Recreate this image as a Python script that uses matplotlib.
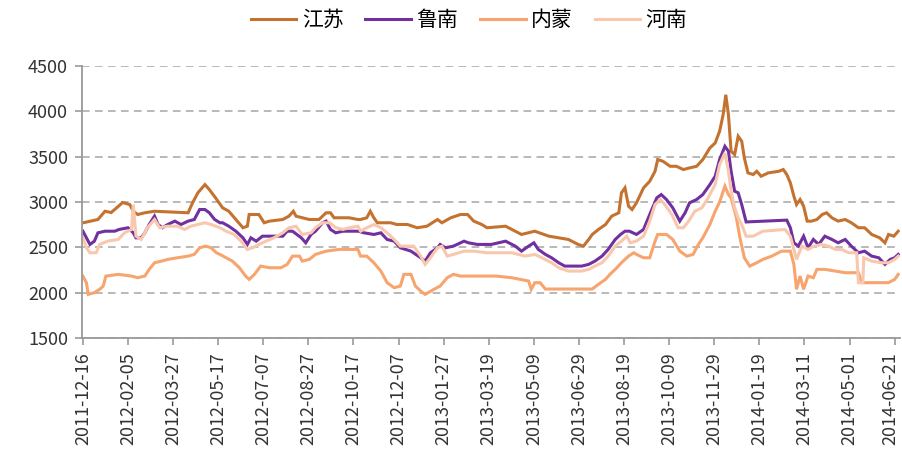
import matplotlib
matplotlib.use("Agg")
import matplotlib.pyplot as plt
import matplotlib.dates as mdates
import matplotlib.transforms as mtransforms
import pandas as pd

plt.rcParams['font.family'] = ['Noto Sans CJK SC', 'DejaVu Sans']

start_date = "2011-12-16"
series_names = ["江苏", "鲁南", "内蒙", "河南"]
series_colors = ["#C4722F", "#7030A0", "#F7A46E", "#F9C7AE"]

# day offsets from start_date and price values
js_days = [0, 17, 25, 32, 45, 53, 57, 62, 70, 81, 119, 124, 130, 138, 143, 150, 158, 165, 173, 181,
           186, 188, 199, 205, 211, 226, 233, 238, 241, 256, 267, 275, 280, 284, 301, 311, 314, 321,
           325, 329, 333, 348, 355, 367, 378, 389, 401, 406, 416, 427, 435, 442, 451, 457, 478, 496,
           511, 527, 538, 549, 560, 566, 572, 576, 583, 591, 598, 606, 609, 613, 617, 621, 626, 634,
           641, 647, 650, 656, 664, 671, 679, 686, 694, 701, 709, 715, 720, 724, 727, 730, 733, 737,
           741, 745, 748, 752, 758, 762, 767, 775, 787, 792, 796, 800, 804, 807, 811, 815, 819, 824,
           830, 836, 841, 847, 854, 862, 869, 877, 884, 892, 901, 907, 911, 917, 922]
js_vals = [2770, 2807, 2898, 2884, 2994, 2972, 2898, 2862, 2881, 2898, 2881, 2991, 3101, 3192, 3137,
           3046, 2936, 2898, 2807, 2716, 2733, 2862, 2862, 2771, 2789, 2807, 2844, 2898, 2844, 2807,
           2807, 2881, 2881, 2826, 2826, 2807, 2807, 2826, 2898, 2826, 2771, 2771, 2752, 2752, 2716,
           2733, 2807, 2771, 2826, 2862, 2862, 2789, 2752, 2716, 2733, 2642, 2678, 2623, 2605, 2587,
           2532, 2513, 2587, 2642, 2697, 2752, 2844, 2881, 3101, 3156, 2954, 2917, 2991, 3156, 3229,
           3339, 3468, 3449, 3394, 3394, 3358, 3376, 3394, 3468, 3596, 3651, 3780, 3963, 4183, 3963,
           3560, 3523, 3725, 3670, 3486, 3321, 3303, 3339, 3284, 3321, 3339, 3358, 3303, 3211, 3064,
           2972, 3027, 2954, 2789, 2789, 2807, 2862, 2881, 2826, 2789, 2807, 2771, 2716, 2716, 2642,
           2605, 2550, 2642, 2623, 2678]

ln_days = [0, 4, 8, 13, 17, 25, 36, 41, 51, 57, 60, 66, 70, 75, 81, 85, 90, 96, 104, 111, 119, 126,
           132, 138, 143, 149, 155, 158, 165, 173, 181, 186, 190, 196, 203, 226, 231, 237, 247, 252,
           258, 263, 271, 275, 280, 286, 294, 311, 318, 329, 337, 344, 352, 359, 371, 382, 387, 393,
           401, 404, 410, 419, 431, 436, 446, 462, 478, 489, 496, 504, 510, 515, 523, 530, 538, 545,
           564, 572, 579, 587, 594, 602, 608, 613, 618, 626, 634, 641, 649, 654, 660, 667, 675, 681,
           686, 694, 701, 709, 715, 720, 726, 730, 733, 737, 741, 745, 750, 796, 800, 804, 809, 815,
           820, 826, 832, 839, 847, 854, 862, 869, 877, 884, 892, 900, 907, 913, 918, 922]
ln_vals = [2678, 2605, 2532, 2568, 2660, 2678, 2678, 2697, 2716, 2660, 2605, 2605, 2660, 2752, 2844,
           2752, 2716, 2752, 2789, 2752, 2789, 2807, 2917, 2917, 2881, 2807, 2771, 2771, 2733, 2678,
           2605, 2532, 2605, 2568, 2623, 2623, 2678, 2678, 2605, 2550, 2642, 2678, 2771, 2789, 2697,
           2660, 2678, 2678, 2660, 2642, 2660, 2587, 2568, 2495, 2458, 2385, 2348, 2440, 2495, 2532,
           2495, 2513, 2568, 2550, 2532, 2532, 2568, 2513, 2458, 2513, 2550, 2477, 2422, 2385, 2330,
           2293, 2293, 2312, 2348, 2403, 2477, 2587, 2642, 2678, 2678, 2642, 2697, 2862, 3046, 3082,
           3027, 2936, 2789, 2881, 2991, 3027, 3082, 3192, 3284, 3468, 3614, 3560, 3339, 3119, 3101,
           2972, 2780, 2800, 2716, 2550, 2513, 2623, 2495, 2587, 2532, 2623, 2587, 2550, 2587, 2513,
           2440, 2458, 2403, 2385, 2312, 2367, 2385, 2422]

nm_days = [0, 4, 6, 13, 19, 23, 26, 40, 55, 62, 70, 75, 81, 89, 96, 107, 119, 126, 132, 139, 145, 151,
           155, 162, 169, 177, 184, 188, 194, 201, 211, 224, 231, 237, 245, 248, 256, 263, 275, 290,
           311, 314, 321, 329, 337, 344, 352, 359, 363, 371, 376, 382, 387, 397, 404, 412, 419, 427,
           467, 485, 504, 507, 511, 517, 523, 576, 583, 591, 596, 602, 609, 617, 623, 626, 634, 641,
           647, 650, 660, 667, 675, 683, 690, 696, 701, 709, 715, 720, 726, 730, 733, 739, 743, 748,
           754, 762, 769, 779, 790, 800, 804, 807, 811, 815, 820, 826, 830, 839, 851, 862, 877, 881,
           911, 918, 922]
nm_vals = [2183, 2110, 1981, 2000, 2037, 2073, 2183, 2202, 2183, 2165, 2183, 2257, 2330, 2348, 2367,
           2385, 2403, 2422, 2495, 2513, 2495, 2440, 2422, 2385, 2348, 2275, 2183, 2147, 2202, 2293,
           2275, 2275, 2312, 2403, 2403, 2348, 2367, 2422, 2458, 2477, 2477, 2403, 2403, 2330, 2238,
           2110, 2055, 2073, 2202, 2202, 2073, 2018, 1981, 2037, 2073, 2165, 2202, 2183, 2183, 2165,
           2128, 2037, 2110, 2110, 2040, 2040, 2092, 2147, 2202, 2257, 2330, 2403, 2440, 2422, 2385,
           2385, 2568, 2642, 2642, 2587, 2458, 2403, 2422, 2532, 2605, 2752, 2898, 3000, 3174, 3082,
           3046, 2826, 2605, 2385, 2293, 2330, 2367, 2403, 2458, 2458, 2312, 2037, 2183, 2037, 2183,
           2165, 2257, 2257, 2238, 2220, 2220, 2110, 2110, 2147, 2202]

hn_days = [0, 4, 8, 15, 19, 28, 40, 47, 55, 57, 60, 66, 73, 81, 87, 96, 107, 115, 122, 130, 138, 145,
           155, 162, 171, 179, 186, 192, 199, 207, 216, 226, 233, 241, 248, 258, 263, 271, 279, 286,
           294, 301, 311, 314, 321, 329, 337, 344, 352, 359, 374, 382, 387, 393, 401, 406, 412, 419,
           431, 442, 457, 485, 500, 511, 519, 530, 538, 549, 564, 572, 579, 587, 594, 602, 609, 615,
           619, 626, 634, 641, 647, 653, 658, 666, 673, 679, 685, 692, 700, 707, 715, 720, 726, 730,
           733, 737, 741, 745, 750, 758, 769, 794, 800, 804, 807, 813, 820, 827, 835, 843, 851, 858,
           866, 875, 877, 882, 883, 892, 903, 911, 918, 922]
hn_vals = [2605, 2495, 2440, 2440, 2532, 2568, 2587, 2660, 2697, 2972, 2623, 2587, 2716, 2807, 2716,
           2733, 2733, 2697, 2733, 2752, 2771, 2752, 2716, 2678, 2642, 2568, 2477, 2495, 2532, 2568,
           2605, 2660, 2716, 2733, 2642, 2660, 2716, 2771, 2771, 2716, 2697, 2716, 2733, 2678, 2716,
           2752, 2716, 2660, 2587, 2513, 2513, 2403, 2312, 2385, 2495, 2513, 2403, 2422, 2458, 2458,
           2440, 2440, 2403, 2422, 2385, 2330, 2275, 2238, 2238, 2257, 2293, 2330, 2403, 2513, 2568,
           2623, 2550, 2570, 2623, 2789, 2972, 3027, 2972, 2862, 2716, 2716, 2789, 2898, 2936, 3046,
           3192, 3413, 3541, 3339, 3119, 2936, 2826, 2752, 2623, 2623, 2678, 2697, 2623, 2477, 2367,
           2513, 2477, 2513, 2532, 2513, 2477, 2477, 2440, 2440, 2110, 2110, 2385, 2348, 2330, 2330,
           2367, 2403]

y_ticks = [1500, 2000, 2500, 3000, 3500, 4000, 4500]
x_tick_step_days = 51
x_tick_count = 19

start = pd.Timestamp(start_date)
all_days = [js_days, ln_days, nm_days, hn_days]
all_vals = [js_vals, ln_vals, nm_vals, hn_vals]

fig = plt.figure(figsize=(9.02, 4.63), dpi=100)
ax = fig.add_axes([82 / 902, 1 - 338 / 463, (900 - 82) / 902, (338 - 66) / 463])

handles = []
for name, color, days, vals in zip(series_names, series_colors, all_days, all_vals):
    dates = start + pd.to_timedelta(days, unit="D")
    h, = ax.plot(dates, vals, color=color, lw=2.2, label=name, solid_joinstyle="miter")
    handles.append(h)

ax.set_ylim(y_ticks[0], y_ticks[-1])
ax.set_yticks(y_ticks)
ax.set_xlim(start - pd.Timedelta(days=1), start + pd.Timedelta(days=924))
ticks = pd.date_range(start, periods=x_tick_count, freq=f"{x_tick_step_days}D")
ax.set_xticks(ticks)
ax.xaxis.set_major_formatter(mdates.DateFormatter("%Y-%m-%d"))
plt.setp(ax.get_xticklabels(), rotation=90, ha="center", va="top")

ax.grid(axis="y", color="#A6A6A6", linestyle=(0, (5, 3.5)), lw=1.1)
ax.set_axisbelow(True)
for s in ["top", "right"]:
    ax.spines[s].set_visible(False)
for s in ["left", "bottom"]:
    ax.spines[s].set_color("#999999")
    ax.spines[s].set_linewidth(1.3)
ax.tick_params(axis="both", colors="#999999", length=5, width=1.2, labelcolor="#333333")
ax.tick_params(axis="y", labelsize=13, pad=5)
ax.tick_params(axis="x", labelsize=13, pad=5)

# nudge the last x label slightly left so it stays inside the figure
last_lbl = ax.get_xticklabels()[-1]
last_lbl.set_transform(last_lbl.get_transform() +
                       mtransforms.ScaledTranslation(-4 / 100, 0, fig.dpi_scale_trans))

fig.legend(handles=handles, labels=series_names, loc="center", bbox_to_anchor=(469 / 902, 1 - 20 / 463),
           ncol=4, frameon=False, fontsize=15, handlelength=2.2, handletextpad=0.25,
           columnspacing=1.05)

fig.savefig("out.png", dpi=100)
